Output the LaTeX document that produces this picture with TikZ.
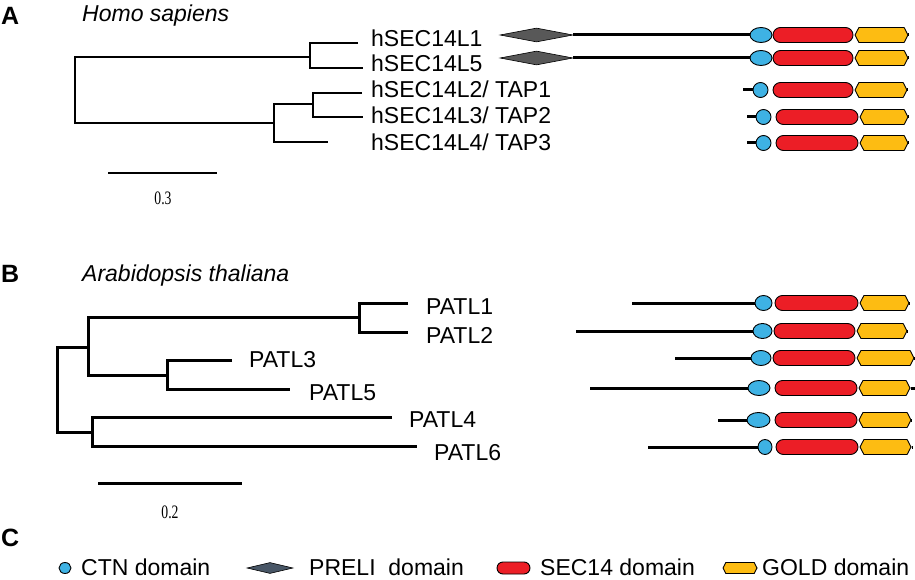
\documentclass[tikz,border=0pt]{standalone}
\usepackage{fontspec}
\setmainfont{Liberation Sans}
\newfontfamily\barfont[FakeStretch=0.72]{Liberation Serif}
\usetikzlibrary{shapes.geometric, shapes.misc, shapes.symbols}
\definecolor{ctnBlue}{RGB}{62,178,228}
\definecolor{secRed}{RGB}{236,30,38}
\definecolor{goldYellow}{RGB}{253,188,18}
\definecolor{preliGray}{RGB}{88,88,88}
\definecolor{preliSlate}{RGB}{72,86,102}
\newcommand{\labfont}{\fontsize{23}{27}\selectfont}
\tikzset{
  leaf/.style = {
    anchor=base west,
    inner sep=0,
    font=\labfont,
  },
  panel/.style = {
    anchor=base west,
    inner sep=0,
    font=\fontsize{25}{28}\selectfont\bfseries,
  },
  species/.style = {
    leaf,
    font=\labfont\itshape,
  },
  barLabel/.style = {
    inner sep=0,
    font=\barfont\fontsize{19}{22}\selectfont,
  },
  ctnDomain/.style = {
    draw,
    ellipse,
    fill=ctnBlue,
    line width=0.9pt,
    inner sep=0,
    minimum height=15pt,
  },
  secDomain/.style = {
    draw,
    rounded rectangle,
    fill=secRed,
    line width=0.9pt,
    inner sep=0,
    minimum height=15pt,
  },
  goldDomain/.style = {
    draw,
    signal,
    signal to=east and west,
    signal pointer angle=125,
    fill=goldYellow,
    line width=0.9pt,
    inner sep=0,
    minimum height=15pt,
  },
  preliDomain/.style = {
    draw,
    diamond,
    fill=preliGray,
    line width=0.6pt,
    inner sep=0,
    minimum width=73pt,
    minimum height=14pt,
  },
  backbone/.style = {
    line width=3pt,
  },
}
\newcommand{\domrow}[9]{
  \coordinate (start#1) at (#3,#2);
  \coordinate (end#1) at (#4,#2);
  \node (ctn#1)[ctnDomain, minimum width={(#6-#5)*1pt}] at ({(#5+#6)/2},#2) {};
  \node (sec#1)[secDomain, minimum width={(#8-#7)*1pt}] at ({(#7+#8)/2},#2) {};
  \node (gold#1)[goldDomain, minimum width={(#9-#8-2)*1pt}] at ({(#8+#9+2)/2},#2) {};
  \draw[backbone] (start#1) -- (ctn#1.west);
  \draw[backbone] (gold#1.east) -- (end#1);
}

\begin{document}
\begin{tikzpicture}[
  x=1pt, y=-1pt,
  branchA/.style = {line width=1.5pt},
  branchB/.style = {line width=3pt},
]
\useasboundingbox (0,0) rectangle (915,580);

\node (panelA)[panel] at (1,25) {A};
\node (homo)[species] at (82,22) {Homo sapiens};

\coordinate (rA) at (75,90);
\coordinate (nA15) at (310,57);
\coordinate (nA234) at (274,123);
\coordinate (nA23) at (313,104);
\coordinate (tA1) at (358,43);
\coordinate (tA5) at (363,68);
\coordinate (tA2) at (362,93);
\coordinate (tA3) at (363,117);
\coordinate (tA4) at (328,142);

\draw[branchA] (tA1) -| (nA15) |- (tA5);
\draw[branchA] (tA2) -| (nA23) |- (tA3);
\draw[branchA] (nA23) -| (nA234) |- (tA4);
\draw[branchA] (nA15) -| (rA) |- (nA234);

\node (hL1)[leaf] at (371,47) {hSEC14L1};
\node (hL5)[leaf] at (371,72) {hSEC14L5};
\node (hL2)[leaf] at (371,98) {hSEC14L2/ TAP1};
\node (hL3)[leaf] at (371,124) {hSEC14L3/ TAP2};
\node (hL4)[leaf] at (371,151) {hSEC14L4/ TAP3};

\coordinate (sbA1) at (108,173);
\coordinate (sbA2) at (217,173);
\draw[line width=2pt] (sbA1) -- (sbA2);
\node (sbAlab)[barLabel] at (163,198) {0.3};

\node (preA1)[preliDomain] at (536.5,35) {};
\node (preA2)[preliDomain] at (536.5,58) {};
\domrow{A1}{35}{573}{908}{750}{772}{773}{853}{908}
\domrow{A2}{58}{573}{908}{750}{772}{773}{853}{908}
\domrow{A3}{90}{743}{907}{753}{768}{773}{853}{907}
\domrow{A4}{117}{747}{908}{756}{771}{776}{858}{908}
\domrow{A5}{143}{747}{908}{756}{771}{776}{858}{908}

\node (panelB)[panel] at (1,282) {B};
\node (arab)[species] at (82,281) {Arabidopsis thaliana};

\coordinate (rB) at (57,390);
\coordinate (nBup) at (88,347);
\coordinate (nB12) at (359,317);
\coordinate (nB35) at (167,375);
\coordinate (nB46) at (92,432);
\coordinate (tB1) at (408,303);
\coordinate (tB2) at (408,332);
\coordinate (tB3) at (232,360);
\coordinate (tB5) at (290,389);
\coordinate (tB4) at (392,417);
\coordinate (tB6) at (417,446);

\draw[branchB] (tB1) -| (nB12) |- (tB2);
\draw[branchB] (tB3) -| (nB35) |- (tB5);
\draw[branchB] (nB12) -| (nBup) |- (nB35);
\draw[branchB] (tB4) -| (nB46) |- (tB6);
\draw[branchB] (nBup) -| (rB) |- (nB46);

\node (pL1)[leaf] at (426,314) {PATL1};
\node (pL2)[leaf] at (426,343) {PATL2};
\node (pL3)[leaf] at (249,367) {PATL3};
\node (pL5)[leaf] at (309,400) {PATL5};
\node (pL4)[leaf] at (409,427) {PATL4};
\node (pL6)[leaf] at (434,460) {PATL6};

\coordinate (sbB1) at (98,483);
\coordinate (sbB2) at (242,483);
\draw[line width=3pt] (sbB1) -- (sbB2);
\node (sbBlab)[barLabel] at (170,512) {0.2};

\domrow{B1}{303}{632}{909}{755}{772}{775}{858}{909}
\domrow{B2}{331}{576}{907}{753}{772}{774}{855}{907}
\domrow{B3}{358}{675}{914}{751}{771}{773}{855}{914}
\domrow{B4}{388}{590}{915}{748}{770}{775}{857}{910}
\domrow{B5}{420}{718}{911}{747}{770}{775}{857}{911}
\domrow{B6}{447}{648}{913}{758}{772}{776}{858}{911}

\node (panelC)[panel] at (1,546) {C};

\node (legCtn)[ctnDomain, minimum width=12pt, minimum height=11pt] at (65,568) {};
\node (legCtnTxt)[leaf] at (81,575) {CTN domain};
\node (legPreli)[preliDomain, fill=preliSlate, minimum width=46pt, minimum height=11pt] at (270,568) {};
\node (legPreliTxt)[leaf] at (309,575) {PRELI\ \ domain};
\node (legSec)[secDomain, minimum width=33pt, minimum height=12pt] at (513.5,568) {};
\node (legSecTxt)[leaf] at (540,575) {SEC14 domain};
\node (legGold)[goldDomain, minimum width=34pt, minimum height=11pt] at (740,568) {};
\node (legGoldTxt)[leaf] at (762,575) {GOLD domain};

\end{tikzpicture}
\end{document}
